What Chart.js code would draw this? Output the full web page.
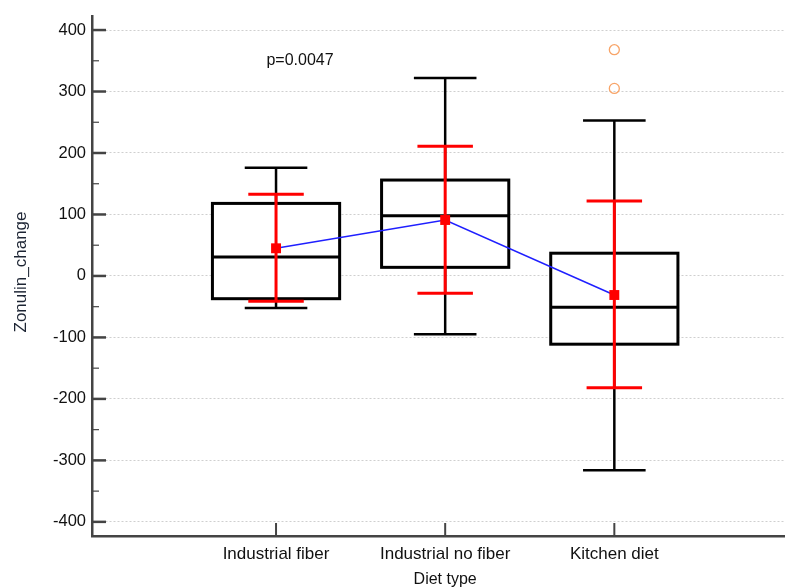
<!DOCTYPE html>
<html>
<head>
<meta charset="utf-8">
<script src="https://cdn.jsdelivr.net/npm/chart.js@4"></script>
<style>
  html, body { margin: 0; padding: 0; background: #fff; }
  canvas { display: block; }
</style>
</head>
<body>
<canvas id="chart" width="785" height="587"></canvas>
<script>
// values
const categories = ['Industrial fiber', 'Industrial no fiber', 'Kitchen diet'];
const whiskerLow = [-52, -95, -316];
const q1 = [-37, 14, -111];
const median = [31, 98, -51];
const q3 = [118, 156, 37];
const whiskerHigh = [176, 322, 253];
const means = [45, 91, -31];
const sdLow = [-41, -28, -182];
const sdHigh = [133, 211, 122];
const outlierCategory = [3, 3];
const outlierValues = [368, 305];
const yTickValues = [-400, -350, -300, -250, -200, -150, -100, -50, 0, 50, 100, 150, 200, 250, 300, 350, 400];
const pValueText = 'p=0.0047';

const FONT = "'Liberation Sans', Arial, sans-serif";
const AXIS_COLOR = '#444';

function hLine(ctx, x1, x2, y) {
    ctx.beginPath();
    ctx.moveTo(x1, y);
    ctx.lineTo(x2, y);
    ctx.stroke();
}

function vLine(ctx, x, y1, y2) {
    ctx.beginPath();
    ctx.moveTo(x, y1);
    ctx.lineTo(x, y2);
    ctx.stroke();
}

const boxPlugin = {
    id: 'boxes',
    beforeDatasetsDraw(chart) {
        const {ctx, scales: {x, y}} = chart;
        const unit = x.getPixelForValue(1) - x.getPixelForValue(0);
        const boxHalf = unit * 0.376;
        const capHalf = unit * 0.185;
        const sdCapHalf = unit * 0.164;

        ctx.save();
        categories.forEach((c, i) => {
            const cx = x.getPixelForValue(i + 1);

            // whiskers
            ctx.strokeStyle = '#000';
            ctx.lineWidth = 2.5;
            vLine(ctx, cx, y.getPixelForValue(whiskerLow[i]), y.getPixelForValue(q1[i]));
            vLine(ctx, cx, y.getPixelForValue(q3[i]), y.getPixelForValue(whiskerHigh[i]));
            hLine(ctx, cx - capHalf, cx + capHalf, y.getPixelForValue(whiskerLow[i]));
            hLine(ctx, cx - capHalf, cx + capHalf, y.getPixelForValue(whiskerHigh[i]));

            // box
            const top = y.getPixelForValue(q3[i]);
            const bottom = y.getPixelForValue(q1[i]);
            ctx.fillStyle = '#fff';
            ctx.fillRect(cx - boxHalf, top, boxHalf * 2, bottom - top);
            ctx.lineWidth = 3;
            ctx.strokeRect(cx - boxHalf, top, boxHalf * 2, bottom - top);
            hLine(ctx, cx - boxHalf, cx + boxHalf, y.getPixelForValue(median[i]));

            // mean +- SD
            ctx.strokeStyle = '#ff0000';
            ctx.lineWidth = 3;
            vLine(ctx, cx, y.getPixelForValue(sdLow[i]), y.getPixelForValue(sdHigh[i]));
            hLine(ctx, cx - sdCapHalf, cx + sdCapHalf, y.getPixelForValue(sdLow[i]));
            hLine(ctx, cx - sdCapHalf, cx + sdCapHalf, y.getPixelForValue(sdHigh[i]));
        });
        ctx.restore();
    },
    afterDraw(chart) {
        const {ctx, chartArea, scales: {x, y}} = chart;
        ctx.save();
        ctx.strokeStyle = AXIS_COLOR;

        // inward tick marks
        yTickValues.forEach(v => {
            const py = y.getPixelForValue(v);
            const major = v % 100 === 0;
            ctx.lineWidth = major ? 2.5 : 1.2;
            hLine(ctx, chartArea.left, chartArea.left + (major ? 14 : 7), py);
        });
        ctx.lineWidth = 2;
        categories.forEach((c, i) => {
            vLine(ctx, x.getPixelForValue(i + 1), chartArea.bottom, chartArea.bottom - 13);
        });

        // texts
        ctx.fillStyle = '#111';
        ctx.textAlign = 'center';
        ctx.textBaseline = 'middle';
        ctx.font = '16px ' + FONT;
        ctx.fillText(pValueText, 300, 61);

        ctx.fillText('Diet type', x.getPixelForValue(2), 580);

        ctx.translate(21, 272);
        ctx.rotate(-Math.PI / 2);
        ctx.font = '17px ' + FONT;
        ctx.fillStyle = '#1c2433';
        ctx.fillText('Zonulin_change', 0, 0);
        ctx.restore();
    }
};

new Chart(document.getElementById('chart'), {
    type: 'line',
    data: {
        datasets: [
            {
                type: 'scatter',
                data: outlierValues.map((v, i) => ({x: outlierCategory[i], y: v})),
                pointStyle: 'circle',
                pointRadius: 5,
                borderColor: '#f8a468',
                borderWidth: 1.3,
                backgroundColor: 'rgba(0,0,0,0)'
            },
            {
                type: 'line',
                data: means.map((v, i) => ({x: i + 1, y: v})),
                borderColor: '#1f1fff',
                borderWidth: 1.5,
                pointStyle: 'rect',
                pointRadius: 7,
                pointBackgroundColor: '#ff0000',
                pointBorderColor: '#ff0000',
                pointBorderWidth: 0,
                tension: 0
            }
        ]
    },
    options: {
        responsive: false,
        animation: false,
        layout: {autoPadding: false, padding: {top: 15, left: 0, right: 0, bottom: 0}},
        plugins: {
            legend: {display: false},
            tooltip: {enabled: false}
        },
        scales: {
            x: {
                type: 'linear',
                min: -0.088,
                max: 4.009,
                afterBuildTicks: axis => {
                    axis.ticks = categories.map((c, i) => ({value: i + 1}));
                },
                afterFit: axis => {
                    axis.height = 51;
                },
                ticks: {
                    callback: v => categories[v - 1] || '',
                    color: '#111',
                    font: {family: FONT, size: 17},
                    padding: 8,
                    maxRotation: 0,
                    autoSkip: false
                },
                grid: {display: false, drawTicks: false},
                border: {display: true, color: AXIS_COLOR, width: 2.5}
            },
            y: {
                type: 'linear',
                min: -423,
                max: 423,
                afterBuildTicks: axis => {
                    axis.ticks = yTickValues.map(v => ({value: v}));
                },
                afterFit: axis => {
                    axis.width = 92;
                },
                ticks: {
                    callback: v => (v % 100 === 0 ? v : ''),
                    color: '#111',
                    font: {family: FONT, size: 16.5},
                    padding: 6
                },
                grid: {
                    drawTicks: false,
                    color: ctx => (ctx.tick && ctx.tick.value % 100 === 0 ? '#cfcfcf' : 'rgba(0,0,0,0)'),
                    lineWidth: 1
                },
                border: {display: true, color: AXIS_COLOR, width: 2.5, dash: [2, 2]}
            }
        }
    },
    plugins: [boxPlugin]
});
</script>
</body>
</html>
